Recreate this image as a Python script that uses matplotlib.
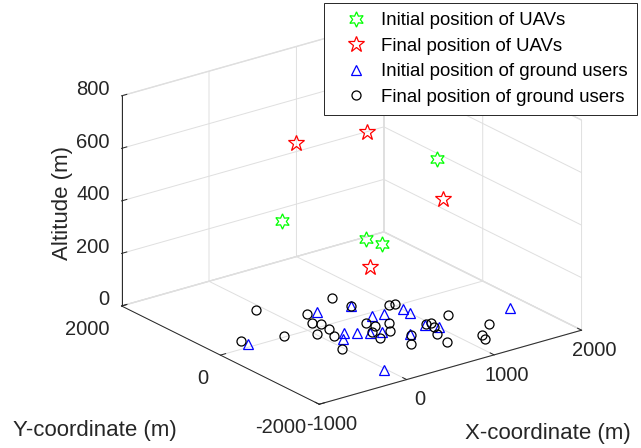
import numpy as np
import matplotlib
matplotlib.use("Agg")
import matplotlib.pyplot as plt

plt.rcParams['font.family'] = ['Liberation Sans', 'DejaVu Sans']

# UAV positions (x, y, altitude)
uav_init_x = [72, 1187, 1241, 1529]
uav_init_y = [652, 929, 687, 82]
uav_init_z = [350, 150, 150, 500]
uav_final_x = [348, 840, 1368, 807]
uav_final_y = [847, 294, -311, 168]
uav_final_z = [600, 650, 400, 150]

# Ground users (z = 0)
gu_init_x = [-634, 342, 672, 229, 123, 318, 678, 788, 420, 521, 1000, 1007, 685, 927, 1005, 1811, -21]
gu_init_y = [93, 417, 316, -327, -490, -441, -97, -138, -520, -580, -149, -294, -851, -728, -875, -892, -1578]
gu_final_x = [-78, -644, -257, 239, 135, 190, 10, 182, 112, -22, 649, 670, 529, 559, 445, 420, 695, 587,
              961, 1027, 556, 687, 947, 998, 968, 889, 1257, 848, 1424, 1194, 1157]
gu_final_y = [908, 213, 27, 438, 151, 79, -160, -116, -336, -727, 666, 318, -241, -365, -516, -724, -413, -631,
              67, 62, -1105, -882, -707, -718, -839, -1033, -619, -1310, -1155, -1405, -1531]

x_ticks = [-1000, 0, 1000, 2000]
y_ticks = [-2000, 0, 2000]
z_ticks = [0, 200, 400, 600, 800]

TXT = '#262626'
GRID = '#dfdfdf'

fig = plt.figure(figsize=(6.41, 4.48), dpi=100)
ax = fig.add_axes([0.039, 0.011, 1, 1], projection='3d', proj_type='ortho')
ax.view_init(elev=22, azim=-127)
ax.set_box_aspect((1, 1, 0.69), zoom=1.12)

l1, = ax.plot(uav_init_x, uav_init_y, uav_init_z, linestyle='none', marker=(6, 1, 0),
              markersize=11, markerfacecolor='none', markeredgecolor='#00ff00', markeredgewidth=0.9,
              label='Initial position of UAVs')
l2, = ax.plot(uav_final_x, uav_final_y, uav_final_z, linestyle='none', marker='*',
              markersize=12, markerfacecolor='none', markeredgecolor='#ff0000', markeredgewidth=0.9,
              label='Final position of UAVs')
l3, = ax.plot(gu_init_x, gu_init_y, np.zeros(len(gu_init_x)), linestyle='none', marker='^',
              markersize=7.5, markerfacecolor='none', markeredgecolor='#0000ff', markeredgewidth=0.9,
              label='Initial position of ground users')
l4, = ax.plot(gu_final_x, gu_final_y, np.zeros(len(gu_final_x)), linestyle='none', marker='o',
              markersize=6.5, markerfacecolor='none', markeredgecolor='black', markeredgewidth=0.9,
              label='Final position of ground users')

ax.set_xlim(-1000, 2000)
ax.set_ylim(-2000, 2000)
ax.set_zlim(0, 800)
ax.set_xticks(x_ticks)
ax.set_yticks(y_ticks)
ax.set_zticks(z_ticks)

for axis in (ax.xaxis, ax.yaxis, ax.zaxis):
    axis.set_pane_color((1, 1, 1, 1))
    axis.pane.set_edgecolor(GRID)
    axis.line.set_color(TXT)
    axis.line.set_linewidth(0.7)
    axis._axinfo['grid'].update(color=GRID, linewidth=0.7)
    axis._axinfo['tick'].update(inward_factor=0.0, outward_factor=0.25)
    axis._axinfo['tick']['linewidth'] = {True: 0.7, False: 0.5}
ax.tick_params(axis='x', labelsize=14.5, colors=TXT, pad=3)
ax.tick_params(axis='y', labelsize=14.5, colors=TXT, pad=0)
ax.tick_params(axis='z', labelsize=14.5, colors=TXT, pad=-3.7)

ax.set_xticklabels([str(v) for v in x_ticks], ha='center', va='center')
ax.set_yticklabels([str(v) for v in y_ticks], ha='right', va='top')
ax.set_zticklabels([str(v) for v in z_ticks], ha='right', va='baseline')

fig.text(0.097, 0.547, 'Altitude (m)', rotation=90, fontsize=16, color=TXT, ha='center', va='center')
fig.text(0.148, 0.038, 'Y-coordinate (m)', fontsize=16, color=TXT, ha='center', va='center')
fig.text(0.855, 0.033, 'X-coordinate (m)', fontsize=16, color=TXT, ha='center', va='center')

leg = fig.legend(handles=[l1, l2, l3, l4], loc='upper right', bbox_to_anchor=(0.994, 0.993),
                 borderaxespad=0.0, fontsize=13.4, frameon=True, fancybox=False, framealpha=1,
                 edgecolor=TXT, labelspacing=0.45, handletextpad=0.1, borderpad=0.5, handlelength=2.5)
leg.get_frame().set_linewidth(0.7)

fig.savefig('out.png', dpi=100)
